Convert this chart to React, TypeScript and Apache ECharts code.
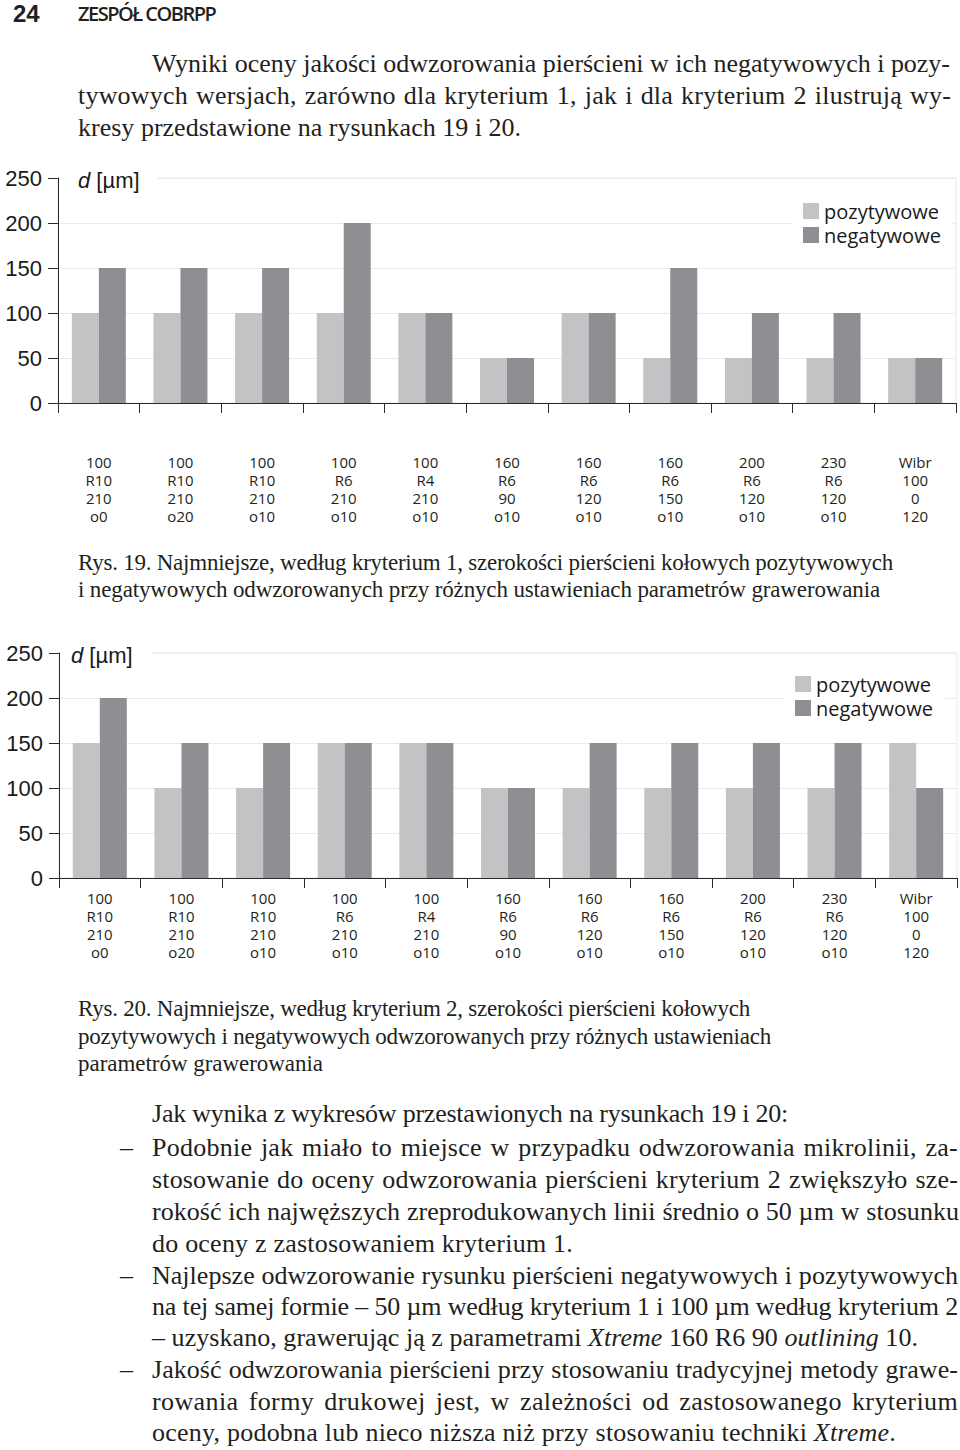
import React, { useEffect, useLayoutEffect, useRef } from "react";
import * as echarts from "echarts";

// ---------- data ----------
const categories = [
  "100\nR10\n210\no0",
  "100\nR10\n210\no20",
  "100\nR10\n210\no10",
  "100\nR6\n210\no10",
  "100\nR4\n210\no10",
  "160\nR6\n90\no10",
  "160\nR6\n120\no10",
  "160\nR6\n150\no10",
  "200\nR6\n120\no10",
  "230\nR6\n120\no10",
  "Wibr\n100\n0\n120",
];
const seriesNames = ["pozytywowe", "negatywowe"];
const fig19Pos = [100, 100, 100, 100, 100, 50, 100, 50, 50, 50, 50];
const fig19Neg = [150, 150, 150, 200, 100, 50, 100, 150, 100, 100, 50];
const fig20Pos = [150, 100, 100, 150, 150, 100, 100, 100, 100, 100, 150];
const fig20Neg = [200, 150, 150, 150, 150, 100, 150, 150, 150, 150, 100];
const yMin = 0;
const yMax = 250;
const yStep = 50;
const axisTitle = "{i|d} [µm]";

const POS_COLOR = "#c2c3c5";
const NEG_COLOR = "#8e8f93";
const INK = "#231f20";

type LineProps = {
  x: number;
  y: number;
  w?: number;
  size: number;
  lh: number;
  justify?: boolean;
  fit?: boolean;
  family?: string;
  weight?: number | string;
  off?: number;
  children: React.ReactNode;
};

function Line({ x, y, w, size, lh, justify, fit, family, weight, off, children }: LineProps) {
  const ref = useRef<HTMLDivElement>(null);
  useLayoutEffect(() => {
    const el = ref.current;
    const sp = el ? (el.firstElementChild as HTMLElement | null) : null;
    if (!el || !sp || !w) return;
    el.style.letterSpacing = "0px";
    el.style.textAlignLast = "left";
    const nat = sp.getBoundingClientRect().width;
    const n = Math.max(1, (sp.textContent || "").length);
    let ls = 0;
    if (justify) ls = nat > w ? (w - nat) / n : Math.min(0.8, ((w - nat) / n) * 0.5);
    else if (fit) ls = (w - nat) / n;
    ls = Math.max(-1.5, Math.min(1.5, ls));
    el.style.letterSpacing = ls.toFixed(3) + "px";
    if (justify) el.style.textAlignLast = "justify";
  }, [w, justify, fit]);
  const o = off === undefined ? 0 : off;
  return (
    <div
      ref={ref}
      style={{
        position: "absolute",
        left: x,
        top: y - lh / 2 - o,
        width: w ? w : "auto",
        whiteSpace: "nowrap",
        fontFamily: family || "'Liberation Serif', 'Times New Roman', serif",
        fontSize: size,
        fontWeight: weight || 400,
        lineHeight: lh + "px",
        textAlign: justify ? "justify" : "left",
        color: INK,
      }}
    >
      <span>{children}</span>
    </div>
  );
}

function makeOption() {
  const grids = [
    { left: 58, top: 178, width: 898, height: 225 },
    { left: 59, top: 653, width: 898, height: 225 },
  ];
  const labelMargins = [50, 11];
  const legendPos = [
    { left: 792, top: 194 },
    { left: 784, top: 667 },
  ];
  const titlePos = [
    { rx: 59, rw: 99, x: 78, y: 180 },
    { rx: 60, rw: 92, x: 71, y: 655 },
  ];
  const data = [
    [fig19Pos, fig19Neg],
    [fig20Pos, fig20Neg],
  ];
  return {
    animation: false,
    backgroundColor: "transparent",
    grid: grids.map((g) => ({
      ...g,
      show: true,
      borderColor: "#e9e9e9",
      borderWidth: 1,
      backgroundColor: "transparent",
      containLabel: false,
      outerBoundsMode: "none",
    })),
    xAxis: grids.map((_, i) => ({
      type: "category",
      gridIndex: i,
      data: categories,
      boundaryGap: true,
      axisLine: { show: true, lineStyle: { color: "#2a2a2a", width: 1 } },
      axisTick: { show: true, length: 10, alignWithLabel: false, lineStyle: { color: "#2a2a2a", width: 1 } },
      axisLabel: {
        interval: 0,
        margin: labelMargins[i],
        fontFamily: "'Open Sans', sans-serif",
        fontSize: 15,
        lineHeight: 18,
        color: INK,
        align: "center",
      },
      splitLine: { show: false },
    })),
    yAxis: grids.map((_, i) => ({
      type: "value",
      gridIndex: i,
      min: yMin,
      max: yMax,
      interval: yStep,
      axisLine: { show: true, lineStyle: { color: "#2a2a2a", width: 1 } },
      axisTick: { show: true, length: 10, lineStyle: { color: "#2a2a2a", width: 1 } },
      axisLabel: {
        margin: 16,
        fontFamily: "'Liberation Sans', Arial, sans-serif",
        fontSize: 22,
        color: "#1a1a1a",
      },
      splitLine: { show: true, lineStyle: { color: "#ebebeb", width: 1 } },
    })),
    legend: grids.map((_, i) => ({
      data: seriesNames,
      orient: "vertical",
      left: legendPos[i].left,
      top: legendPos[i].top,
      padding: [7, 12, 5, 11],
      backgroundColor: "#ffffff",
      itemWidth: 16,
      itemHeight: 16,
      itemGap: 4,
      icon: "rect",
      selectedMode: false,
      textStyle: {
        fontFamily: "'Open Sans', sans-serif",
        fontSize: 20,
        color: "#1a1a1a",
      },
    })),
    series: data.flatMap((pair, i) =>
      pair.map((vals, k) => ({
        type: "bar",
        name: seriesNames[k],
        xAxisIndex: i,
        yAxisIndex: i,
        data: vals,
        barWidth: 27,
        barGap: "0%",
        itemStyle: { color: k === 0 ? POS_COLOR : NEG_COLOR },
        emphasis: { disabled: true },
      }))
    ),
    graphic: titlePos.flatMap((t) => [
      {
        type: "rect",
        z: 50,
        shape: { x: t.rx, y: t.y - 11, width: t.rw, height: 22 },
        style: { fill: "#ffffff" },
      },
      {
        type: "text",
        z: 51,
        x: t.x,
        y: t.y,
        style: {
          text: axisTitle,
          fontFamily: "'Liberation Sans', Arial, sans-serif",
          fontSize: 22,
          fill: "#1a1a1a",
          verticalAlign: "middle",
          align: "left",
          rich: {
            i: {
              fontStyle: "italic",
              fontFamily: "'Liberation Sans', Arial, sans-serif",
              fontSize: 22,
              fill: "#1a1a1a",
            },
          },
        },
      },
    ]),
  };
}

function Charts() {
  const ref = useRef<HTMLDivElement>(null);
  useEffect(() => {
    if (!ref.current) return;
    const chart = echarts.init(ref.current, null, { renderer: "svg" });
    chart.setOption(makeOption() as any);
    return () => chart.dispose();
  }, []);
  return <div ref={ref} style={{ position: "absolute", left: 0, top: 0, width: 960, height: 1450 }} />;
}

const B = 26; // body font size
const BL = 32; // body line height
const C = 23; // caption font size
const CL = 27;

export default function App() {
  return (
    <div
      style={{
        position: "absolute",
        left: 0,
        top: 0,
        width: 960,
        height: 1450,
        background: "#ffffff",
        overflow: "hidden",
      }}
    >
      <Charts />
      <div style={{ position: "absolute", left: 0, top: 0, width: 960, height: 1450, pointerEvents: "none" }}>
        {/* header */}
        <Line x={13} y={14} size={24} lh={28} weight={700} off={0} family="'Liberation Sans', Arial, sans-serif">
          24
        </Line>
        <Line x={78} y={14} w={137} fit size={20} lh={24} off={0} weight={600} family="'Open Sans', sans-serif">
          ZESPÓŁ COBRPP
        </Line>

        {/* intro paragraph */}
        <Line x={152} y={64} w={798} justify size={B} lh={BL}>
          Wyniki oceny jakości odwzorowania pierścieni w ich negatywowych i pozy-
        </Line>
        <Line x={78} y={96} w={873} justify size={B} lh={BL}>
          tywowych wersjach, zarówno dla kryterium 1, jak i dla kryterium 2 ilustrują wy-
        </Line>
        <Line x={78} y={128} w={443} fit size={B} lh={BL}>
          kresy przedstawione na rysunkach 19 i 20.
        </Line>

        {/* caption 19 */}
        <Line x={78} y={562} w={815} fit size={C} lh={CL}>
          Rys. 19. Najmniejsze, według kryterium 1, szerokości pierścieni kołowych pozytywowych
        </Line>
        <Line x={78} y={589} w={802} fit size={C} lh={CL}>
          i negatywowych odwzorowanych przy różnych ustawieniach parametrów grawerowania
        </Line>

        {/* caption 20 */}
        <Line x={78} y={1008} w={672} fit size={C} lh={CL}>
          Rys. 20. Najmniejsze, według kryterium 2, szerokości pierścieni kołowych
        </Line>
        <Line x={78} y={1036} w={693} fit size={C} lh={CL}>
          pozytywowych i negatywowych odwzorowanych przy różnych ustawieniach
        </Line>
        <Line x={78} y={1063} w={245} fit size={C} lh={CL}>
          parametrów grawerowania
        </Line>

        {/* conclusions */}
        <Line x={152} y={1114} w={636} fit size={B} lh={BL}>
          Jak wynika z wykresów przestawionych na rysunkach 19 i 20:
        </Line>
        <Line x={120} y={1148} size={B} lh={BL}>
          –
        </Line>
        <Line x={152} y={1148} w={806} justify size={B} lh={BL}>
          Podobnie jak miało to miejsce w przypadku odwzorowania mikrolinii, za-
        </Line>
        <Line x={152} y={1180} w={806} justify size={B} lh={BL}>
          stosowanie do oceny odwzorowania pierścieni kryterium 2 zwiększyło sze-
        </Line>
        <Line x={152} y={1212} w={807} justify size={B} lh={BL}>
          rokość ich najwęższych zreprodukowanych linii średnio o 50 µm w stosunku
        </Line>
        <Line x={152} y={1244} w={421} fit size={B} lh={BL}>
          do oceny z zastosowaniem kryterium 1.
        </Line>
        <Line x={120} y={1276} size={B} lh={BL}>
          –
        </Line>
        <Line x={152} y={1276} w={806} justify size={B} lh={BL}>
          Najlepsze odwzorowanie rysunku pierścieni negatywowych i pozytywowych
        </Line>
        <Line x={152} y={1307} w={806} justify size={B} lh={BL}>
          na tej samej formie – 50 µm według kryterium 1 i 100 µm według kryterium 2
        </Line>
        <Line x={152} y={1338} w={766} fit size={B} lh={BL}>
          – uzyskano, grawerując ją z parametrami <i>Xtreme</i> 160 R6 90 <i>outlining</i> 10.
        </Line>
        <Line x={120} y={1370} size={B} lh={BL}>
          –
        </Line>
        <Line x={152} y={1370} w={806} justify size={B} lh={BL}>
          Jakość odwzorowania pierścieni przy stosowaniu tradycyjnej metody grawe-
        </Line>
        <Line x={152} y={1402} w={806} justify size={B} lh={BL}>
          rowania formy drukowej jest, w zależności od zastosowanego kryterium
        </Line>
        <Line x={152} y={1433} w={744} fit size={B} lh={BL}>
          oceny, podobna lub nieco niższa niż przy stosowaniu techniki <i>Xtreme</i>.
        </Line>
      </div>
    </div>
  );
}
